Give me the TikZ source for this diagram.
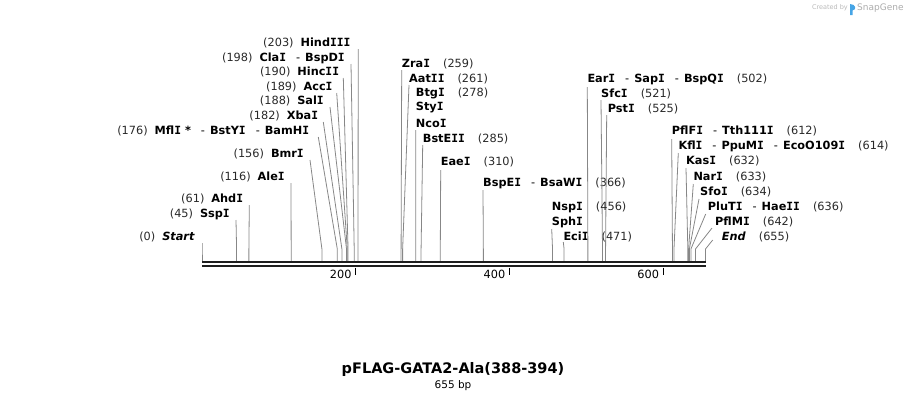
\documentclass[tikz,border=0pt]{standalone}
\usepackage{fontspec}
\setmainfont{DejaVu Sans}
\newfontfamily\serifIfont{DejaVu Sans Mono}
\usetikzlibrary{positioning}
\definecolor{cutgray}{RGB}{135,135,135}
\definecolor{posgray}{RGB}{40,40,40}
\definecolor{bardark}{RGB}{30,30,30}
\definecolor{snapblue}{RGB}{70,165,230}
\newcommand{\enz}[1]{\textbf{#1}}
\newcommand{\eI}{{\serifIfont I}}
\newcommand{\cutpos}[1]{\textcolor{posgray}{(#1)}}
\newcommand{\dsh}{\hspace{10pt}-\hspace{5pt}}

\begin{document}
\begin{tikzpicture}[x=1pt, y=-1pt,
  sitelabel/.style={inner sep=0pt, font=\fontsize{11.3}{13}\selectfont},
  cutline/.style={draw=cutgray, line width=0.8pt},
  seqbar/.style={draw=bardark, line width=2.3pt},
  tickmark/.style={draw=black, line width=1.4pt}]
  \useasboundingbox (0,0) rectangle (908,400);

  % sites labelled on the left
  \foreach \bp/\lx/\ly/\dx/\txt [count=\i] in {
    0/195/237/7/{\cutpos{0}\hspace{7pt}\enz{\textit{Start}}},
    45/230/214/6/{\cutpos{45}\hspace{7pt}\enz{Ssp\eI}},
    61/243.3/199/6/{\cutpos{61}\hspace{7pt}\enz{Ahd\eI}},
    116/285/177/6/{\cutpos{116}\hspace{7pt}\enz{Ale\eI}},
    156/304/154/6/{\cutpos{156}\hspace{7pt}\enz{Bmr\eI}},
    176/309.3/131/9/{\cutpos{176}\hspace{7pt}\enz{Mfl\eI\ *}\dsh\enz{BstY\eI}\dsh\enz{BamH\eI}},
    182/318.3/116/5/{\cutpos{182}\hspace{7pt}\enz{Xba\eI}},
    188/324/101/6/{\cutpos{188}\hspace{7pt}\enz{Sal\eI}},
    189/332.7/87/4/{\cutpos{189}\hspace{7pt}\enz{Acc\eI}},
    190/339.3/72/4/{\cutpos{190}\hspace{7pt}\enz{Hinc\eI\eI}},
    198/345/58/6/{\cutpos{198}\hspace{7pt}\enz{Cla\eI}\dsh\enz{BspD\eI}},
    203/350.7/43/7.5/{\cutpos{203}\hspace{7pt}\enz{Hind\eI\eI\eI}}}{
    \pgfmathsetmacro\sx{202+\bp*0.7687}
    \coordinate (cutL\i) at (\sx,261);
    \node[sitelabel, anchor=east] (lblL\i) at (\lx,\ly) {\txt};
    \draw[cutline] ([shift={(\dx,6)}]lblL\i.east) -- ([yshift=12pt]cutL\i) -- (cutL\i);
  }

  % sites labelled on the right
  \foreach \bp/\lx/\ly/\dx/\dy/\txt [count=\i] in {
    259/401.7/64/0/6/{\enz{Zra\eI}\hspace{13pt}\cutpos{259}},
    261/409/79/0/6/{\enz{Aat\eI\eI}\hspace{13pt}\cutpos{261}},
    278/415.7/123/0/7/{\enz{Nco\eI}},
    285/422.7/139/0/6/{\enz{BstE\eI\eI}\hspace{13pt}\cutpos{285}},
    310/440.7/162/0/8/{\enz{Eae\eI}\hspace{13pt}\cutpos{310}},
    366/483/183/0/7/{\enz{BspE\eI}\dsh\enz{BsaW\eI}\hspace{13pt}\cutpos{366}},
    456/551.7/222/0/7/{\enz{Sph\eI}},
    471/563.3/237/0/5/{\enz{Eci\eI}\hspace{13pt}\cutpos{471}},
    502/587.3/79/0/8/{\enz{Ear\eI}\dsh\enz{Sap\eI}\dsh\enz{BspQ\eI}\hspace{13pt}\cutpos{502}},
    521/601/94/0/6/{\enz{Sfc\eI}\hspace{13pt}\cutpos{521}},
    525/607.7/109/-1/6/{\enz{Pst\eI}\hspace{13pt}\cutpos{525}},
    612/671.7/131/0/8/{\enz{PflF\eI}\dsh\enz{Tth111\eI}\hspace{13pt}\cutpos{612}},
    614/678.3/146/0/7/{\enz{Kfl\eI}\dsh\enz{PpuM\eI}\dsh\enz{EcoO109\eI}\hspace{13pt}\cutpos{614}},
    632/686/161/0/7/{\enz{Kas\eI}\hspace{13pt}\cutpos{632}},
    633/693.3/177/0/7/{\enz{Nar\eI}\hspace{13pt}\cutpos{633}},
    634/700/192/-1/7/{\enz{Sfo\eI}\hspace{13pt}\cutpos{634}},
    636/707.7/207/-2/7/{\enz{PluT\eI}\dsh\enz{Hae\eI\eI}\hspace{13pt}\cutpos{636}},
    642/715/222/-3/6/{\enz{PflM\eI}\hspace{13pt}\cutpos{642}},
    655/721.7/237/-9/3/{\enz{\textit{End}}\hspace{13pt}\cutpos{655}}}{
    \pgfmathsetmacro\sx{202+\bp*0.7687}
    \coordinate (cutR\i) at (\sx,261);
    \node[sitelabel, anchor=west] (lblR\i) at (\lx,\ly) {\txt};
    \draw[cutline] ([shift={(\dx,\dy)}]lblR\i.west) -- ([yshift=12pt]cutR\i) -- (cutR\i);
  }

  % extra names sharing a cut line
  \node[sitelabel, anchor=west] (lblBtgI) at (415.7,93) {\enz{Btg\eI}\hspace{13pt}\cutpos{278}};
  \node[sitelabel, anchor=west] (lblStyI) at (415.7,108) {\enz{Sty\eI}};
  \node[sitelabel, anchor=west] (lblNspI) at (551.7,207) {\enz{Nsp\eI}\hspace{13pt}\cutpos{456}};

  % sequence
  \coordinate (seqstart) at (202,262.2);
  \coordinate (seqend) at (705.5,262.2);
  \draw[seqbar] (seqstart) -- (seqend);
  \draw[seqbar] ([yshift=-4pt]seqstart) -- ([yshift=-4pt]seqend);
  \foreach \t in {200,400,600}{
    \pgfmathsetmacro\tx{202+\t*0.7687}
    \coordinate (tick\t) at (\tx,267.5);
    \draw[tickmark] (tick\t) -- ++(0,7.5);
    \node[sitelabel, anchor=east] (ticklbl\t) at ([xshift=-4pt,yshift=-7pt]tick\t) {\t};
  }

  % name and size
  \node[font=\fontsize{14.5}{16}\selectfont\bfseries] (title) at (453,369.5) {pFLAG-GATA2-Ala(388-394)};
  \node[font=\fontsize{10.5}{12}\selectfont, below=-3pt of title] (size) {655 bp};

  % watermark
  \node[anchor=east, inner sep=0pt, font=\fontsize{6.5}{7}\selectfont, text=gray!55] (createdby) at (848,8) {Created by};
  \fill[snapblue] (850,15) -- (850,4) .. controls (856,4) and (857,10) .. (852.5,10.5) -- (852.5,15) -- cycle;
  \node[anchor=west, inner sep=0pt, font=\fontsize{9}{10}\selectfont, text=gray!65] (snapgene) at (857,8) {SnapGene};
\end{tikzpicture}
\end{document}
